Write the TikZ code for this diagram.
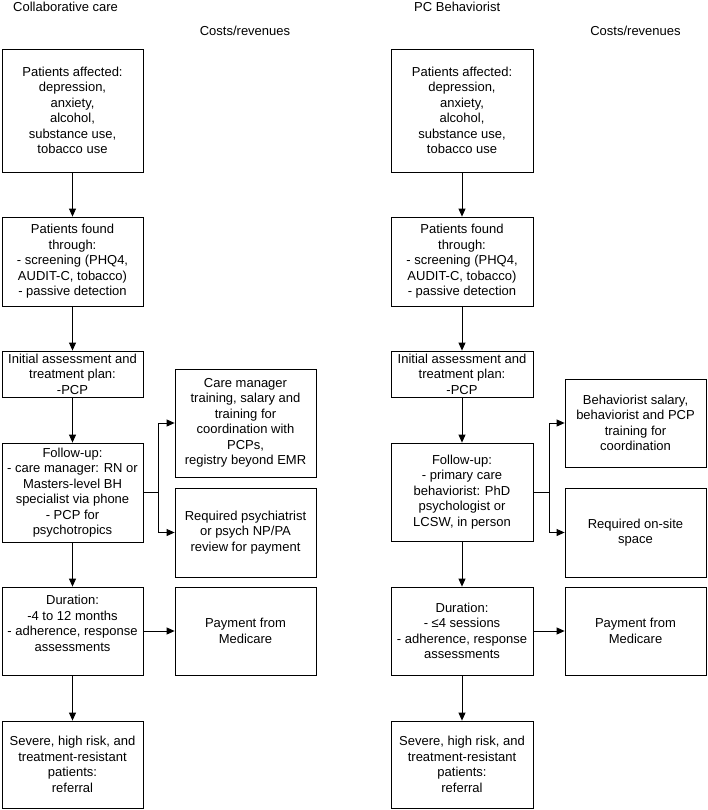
\documentclass[tikz,border=0pt]{standalone}
\usepackage{fontspec}
\setmainfont{Liberation Sans}
\usetikzlibrary{arrows.meta,positioning}
\tikzset{
  stepbox/.style={ draw, rectangle, align=center, inner sep=0pt, line width=0.8bp,
    minimum width=141bp, font=\fontsize{13bp}{15.5bp}\selectfont }
}
\tikzset{
  costbox/.style={ stepbox, minimum width=141bp }
}
\tikzset{
  head/.style={ inner sep=0pt, font=\fontsize{13bp}{15.5bp}\selectfont }
}
\tikzset{
  flow/.style={ -{Triangle[length=8bp,width=7bp]}, line width=0.8bp }
}
\begin{document}
\begin{tikzpicture}[x=1bp, y=-1bp]
      \useasboundingbox (0,0) rectangle (708,810);

      % collaborative care
      \node[head, anchor=west] (titleL) at (13,7) {Collaborative care};
      \node[head] (costL) at (245,31) {Costs/revenues};
      \node[stepbox, minimum height=123bp] (L1) at (72.5,110.5) {Patients affected:\\ depression,\\ anxiety,\\ alcohol,\\ substance use,\\ tobacco use};
      \node[stepbox, minimum height=89bp] (L2) at (72.5,261.5) {Patients found\\ through:\\ - screening (PHQ4,\\ AUDIT-C, tobacco)\\ - passive detection};
      \node[stepbox, minimum height=46bp] (L3) at (72.5,374) {Initial assessment and\\ treatment plan:\\ -PCP};
      \node[stepbox, minimum height=99bp] (L4) at (72.5,492.5) {Follow-up:\\ - care manager: RN or\\ Masters-level BH\\ specialist via phone\\ - PCP for\\ psychotropics};
      \node[stepbox, minimum height=88bp] (L5) at (72.5,631) {Duration:\\ -4 to 12 months\\ - adherence, response\\ assessments\\ \mbox{}};
      \node[stepbox, minimum height=87bp] (L6) at (72.5,764.5) {Severe, high risk, and\\ treatment-resistant\\ patients:\\ referral};
      \node[costbox, minimum height=108bp] (CA) at (245.5,423) {Care manager\\ training, salary and\\ training for\\ coordination with\\ PCPs,\\ registry beyond EMR};
      \node[costbox, minimum height=89bp] (CB) at (245.5,532.5) {Required psychiatrist\\ or psych NP/PA\\ review for payment};
      \node[costbox, minimum height=88bp] (CP) at (245.5,631) {Payment from\\ Medicare};

      \draw[flow] (L1) -- (L2);
      \draw[flow] (L2) -- (L3);
      \draw[flow] (L3) -- (L4);
      \draw[flow] (L4) -- (L5);
      \draw[flow] (L5) -- (L6);
      \draw[flow] (L4.east) -- ++(15,0) |- (CA.west);
      \draw[flow] (L4.east) -- ++(15,0) |- (CB.west);
      \draw[flow] (L5.east) -- (CP.west);

      % pc behaviorist
      \node[head, anchor=west] (titleR) at (414,7) {PC Behaviorist};
      \node[head] (costR) at (635.5,31) {Costs/revenues};
      \node[stepbox, minimum width=142bp, minimum height=123bp] (R1) at (462,110.5) {Patients affected:\\ depression,\\ anxiety,\\ alcohol,\\ substance use,\\ tobacco use};
      \node[stepbox, minimum width=142bp, minimum height=89bp] (R2) at (462,261.5) {Patients found\\ through:\\ - screening (PHQ4,\\ AUDIT-C, tobacco)\\ - passive detection};
      \node[stepbox, minimum width=142bp, minimum height=46bp] (R3) at (462,374) {Initial assessment and\\ treatment plan:\\ -PCP};
      \node[stepbox, minimum width=142bp, minimum height=98bp] (R4) at (462,492) {Follow-up:\\ - primary care\\ behaviorist: PhD\\ psychologist or\\ LCSW, in person};
      \node[stepbox, minimum width=142bp, minimum height=88bp] (R5) at (462,631) {Duration:\\ - ≤4 sessions\\ - adherence, response\\ assessments};
      \node[stepbox, minimum width=142bp, minimum height=87bp] (R6) at (462,764.5) {Severe, high risk, and\\ treatment-resistant\\ patients:\\ referral};
      \node[costbox, minimum height=88bp] (RA) at (635.5,423) {Behaviorist salary,\\ behaviorist and PCP\\ training for\\ coordination};
      \node[costbox, minimum height=89bp] (RB) at (635.5,532.5) {Required on-site\\ space};
      \node[costbox, minimum height=88bp] (RP) at (635.5,631) {Payment from\\ Medicare};

      \draw[flow] (R1) -- (R2);
      \draw[flow] (R2) -- (R3);
      \draw[flow] (R3) -- (R4);
      \draw[flow] (R4) -- (R5);
      \draw[flow] (R5) -- (R6);
      \draw[flow] (R4.east) -- ++(16,0) |- (RA.west);
      \draw[flow] (R4.east) -- ++(16,0) |- (RB.west);
      \draw[flow] (R5.east) -- (RP.west);
\end{tikzpicture}
\end{document}
